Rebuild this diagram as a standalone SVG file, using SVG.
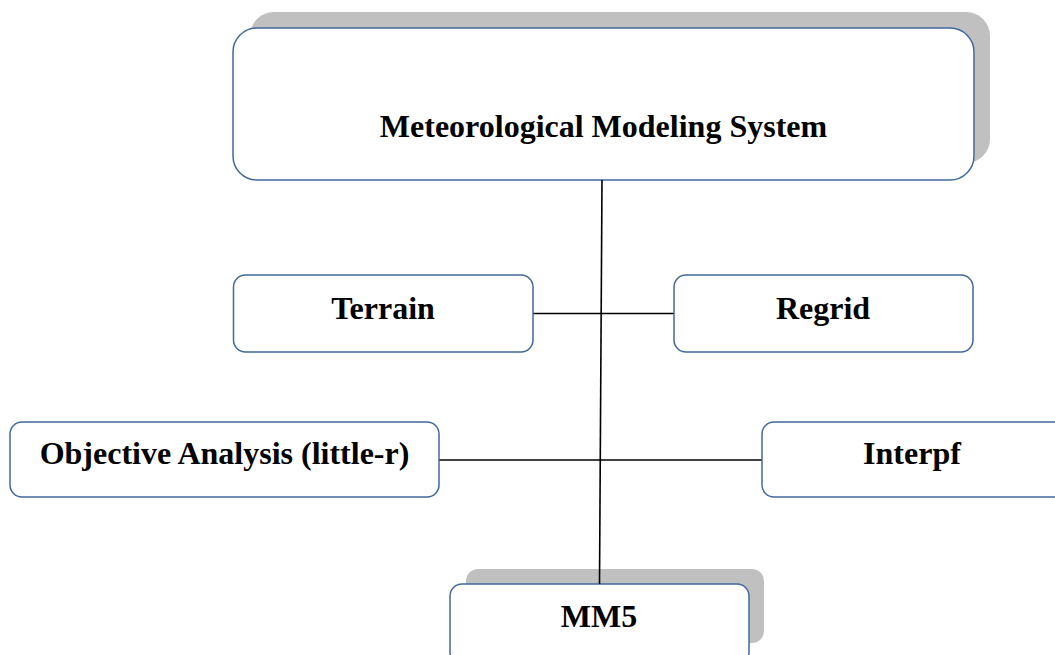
<svg xmlns="http://www.w3.org/2000/svg" width="1055" height="655" viewBox="0 0 1055 655">
<style>
.box{fill:#ffffff;stroke:#41699c;stroke-width:1.5}
.shadow{fill:#c0c0c0;stroke:none}
.lbl{font-family:"Liberation Serif","Times New Roman",serif;font-weight:bold;font-size:32px;fill:#000;text-anchor:middle}
.conn{stroke:#000;stroke-width:1.6;fill:none}
</style>
<rect width="1055" height="655" fill="#ffffff"/>
<g id="n-mms">
<rect class="shadow" x="250" y="12" width="740" height="151" rx="24"/>
<rect class="box" x="233" y="28" width="741" height="152" rx="24"/>
<text class="lbl" x="603.500" y="137">Meteorological Modeling System</text>
</g>
<g id="n-mm5">
<rect class="shadow" x="466" y="569" width="298" height="74" rx="12"/>
<rect class="box" x="450" y="584" width="299" height="80" rx="12"/>
<text class="lbl" x="599" y="627">MM5</text>
</g>
<g id="connectors">
<line class="conn" x1="602" y1="180" x2="599.500" y2="584"/>
<line class="conn" x1="533" y1="313.500" x2="674" y2="313.500"/>
<line class="conn" x1="439" y1="460" x2="762" y2="460"/>
</g>
<g id="n-terrain">
<rect class="box" x="233.500" y="275" width="299.500" height="77" rx="12"/>
<text class="lbl" x="383" y="319">Terrain</text>
</g>
<g id="n-regrid">
<rect class="box" x="674" y="275" width="299" height="77" rx="12"/>
<text class="lbl" x="823" y="319">Regrid</text>
</g>
<g id="n-oa">
<rect class="box" x="10" y="422" width="429" height="75" rx="12"/>
<text class="lbl" x="224.500" y="464">Objective Analysis (little-r)</text>
</g>
<g id="n-interpf">
<rect class="box" x="762" y="422" width="305" height="75" rx="12"/>
<text class="lbl" x="912" y="464">Interpf</text>
</g>
</svg>
